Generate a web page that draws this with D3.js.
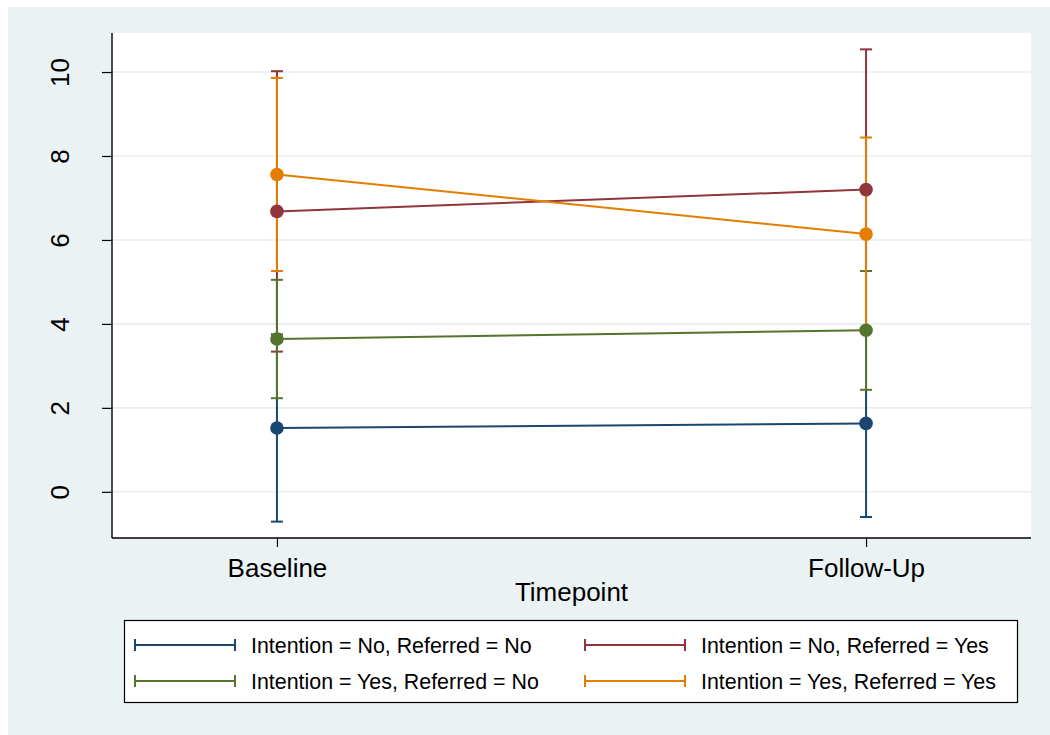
<!DOCTYPE html>
<html>
<head>
<meta charset="utf-8">
<script src="https://cdn.jsdelivr.net/npm/d3@7"></script>
<style>
  html, body { margin: 0; padding: 0; background: #ffffff; }
  svg { display: block; }
  text { font-family: "Liberation Sans", Arial, Helvetica, sans-serif; fill: #000; }
</style>
</head>
<body>
<svg id="chart" width="1050" height="735"></svg>
<script>
// Timepoints on the x axis
const timepoints = ["Baseline", "Follow-Up"];
const timeIndex = [1, 2];

// Group labels
const seriesLabels = [
  "Intention = No, Referred = No",
  "Intention = No, Referred = Yes",
  "Intention = Yes, Referred = No",
  "Intention = Yes, Referred = Yes"
];

// Group means at each timepoint
const meanNoNo   = [1.52, 1.63];
const meanNoYes  = [6.68, 7.20];
const meanYesNo  = [3.64, 3.85];
const meanYesYes = [7.56, 6.14];

// Confidence interval bounds
const lowNoNo   = [-0.71, -0.60];
const highNoNo  = [3.75, 3.86];
const lowNoYes  = [3.34, 3.86];
const highNoYes = [10.02, 10.54];
const lowYesNo  = [2.23, 2.43];
const highYesNo = [5.05, 5.26];
const lowYesYes = [5.26, 3.84];
const highYesYes = [9.86, 8.44];

// Y-axis ticks
const yTicks = [0, 2, 4, 6, 8, 10];

const colors = ["#1a476f", "#90353b", "#55752f", "#e37e00"];

const series = [
  { label: seriesLabels[0], mean: meanNoNo,   lo: lowNoNo,   hi: highNoNo,   color: colors[0] },
  { label: seriesLabels[1], mean: meanNoYes,  lo: lowNoYes,  hi: highNoYes,  color: colors[1] },
  { label: seriesLabels[2], mean: meanYesNo,  lo: lowYesNo,  hi: highYesNo,  color: colors[2] },
  { label: seriesLabels[3], mean: meanYesYes, lo: lowYesYes, hi: highYesYes, color: colors[3] }
];

const svg = d3.select("#chart");

// Plot area
const plot = { left: 112, right: 1031, top: 33, bottom: 538 };

const x = d3.scaleLinear().domain([0.72, 2.28]).range([plot.left, plot.right]);
const y = d3.scaleLinear().domain([-1.1, 10.93]).range([plot.bottom, plot.top]);

// Graph region background
svg.append("rect")
  .attr("x", 8).attr("y", 7)
  .attr("width", 1042).attr("height", 728)
  .attr("fill", "#eaf2f3");

// White plot region
svg.append("rect")
  .attr("x", plot.left).attr("y", plot.top)
  .attr("width", plot.right - plot.left).attr("height", plot.bottom - plot.top)
  .attr("fill", "#ffffff");

// Horizontal gridlines
svg.append("g").selectAll("line")
  .data(yTicks)
  .join("line")
  .attr("x1", plot.left).attr("x2", plot.right)
  .attr("y1", d => y(d)).attr("y2", d => y(d))
  .attr("stroke", "#e6eef0")
  .attr("stroke-width", 1.6);

// Y axis
const yAxis = d3.axisLeft(y)
  .tickValues(yTicks)
  .tickSize(10)
  .tickPadding(0)
  .tickFormat(d3.format("d"));

const yAxisG = svg.append("g")
  .attr("transform", `translate(${plot.left},0)`)
  .call(yAxis);
yAxisG.select(".domain")
  .attr("d", `M0,${plot.top}V${plot.bottom}`)
  .attr("stroke", "#000").attr("stroke-width", 1.4);
yAxisG.selectAll(".tick line").attr("stroke", "#000").attr("stroke-width", 1.2);
yAxisG.selectAll(".tick text")
  .attr("font-size", 26)
  .attr("font-family", "Liberation Sans, Arial, sans-serif")
  .attr("fill", "#000")
  .attr("text-anchor", "middle")
  .attr("x", 0).attr("dy", 0).attr("y", 0)
  .attr("transform", "translate(-43,0) rotate(-90)");

// X axis
const xAxis = d3.axisBottom(x)
  .tickValues(timeIndex)
  .tickSize(9)
  .tickPadding(10)
  .tickFormat((d, i) => timepoints[i]);

const xAxisG = svg.append("g")
  .attr("transform", `translate(0,${plot.bottom})`)
  .call(xAxis);
xAxisG.select(".domain")
  .attr("d", `M${plot.left},0H${plot.right}`)
  .attr("stroke", "#000").attr("stroke-width", 1.4);
xAxisG.selectAll(".tick line").attr("stroke", "#000").attr("stroke-width", 1.2);
xAxisG.selectAll(".tick text")
  .attr("font-size", 26)
  .attr("font-family", "Liberation Sans, Arial, sans-serif")
  .attr("fill", "#000")
  .attr("dy", 0)
  .attr("y", 39);

// Axis title
svg.append("text")
  .attr("x", (plot.left + plot.right) / 2)
  .attr("y", 601)
  .attr("text-anchor", "middle")
  .attr("font-size", 26)
  .text("Timepoint");

// Error bars with caps
const capHalf = 6;
const bars = svg.append("g");
series.forEach(s => {
  const g = bars.append("g").attr("stroke", s.color).attr("stroke-width", 2).attr("fill", "none");
  timeIndex.forEach((t, i) => {
    const cx = x(t);
    g.append("line").attr("x1", cx).attr("x2", cx).attr("y1", y(s.lo[i])).attr("y2", y(s.hi[i]));
    g.append("line").attr("x1", cx - capHalf).attr("x2", cx + capHalf).attr("y1", y(s.lo[i])).attr("y2", y(s.lo[i]));
    g.append("line").attr("x1", cx - capHalf).attr("x2", cx + capHalf).attr("y1", y(s.hi[i])).attr("y2", y(s.hi[i]));
  });
});

// Connected means with markers
const line = d3.line().x((d, i) => x(timeIndex[i])).y(d => y(d));
const means = svg.append("g");
series.forEach(s => {
  means.append("path")
    .attr("d", line(s.mean))
    .attr("fill", "none")
    .attr("stroke", s.color)
    .attr("stroke-width", 2);
  means.selectAll(null)
    .data(s.mean)
    .join("circle")
    .attr("cx", (d, i) => x(timeIndex[i]))
    .attr("cy", d => y(d))
    .attr("r", 6.8)
    .attr("fill", s.color);
});

// Legend
const legend = svg.append("g");
legend.append("rect")
  .attr("x", 124.5).attr("y", 620.5)
  .attr("width", 893).attr("height", 82)
  .attr("fill", "#ffffff")
  .attr("stroke", "#000")
  .attr("stroke-width", 1.2);

const legendPos = [
  { x: 135, y: 645 },
  { x: 585, y: 645 },
  { x: 135, y: 681 },
  { x: 585, y: 681 }
];

series.forEach((s, i) => {
  const p = legendPos[i];
  const g = legend.append("g").attr("stroke", s.color).attr("stroke-width", 2);
  g.append("line").attr("x1", p.x).attr("x2", p.x + 100).attr("y1", p.y).attr("y2", p.y);
  g.append("line").attr("x1", p.x).attr("x2", p.x).attr("y1", p.y - 6).attr("y2", p.y + 6);
  g.append("line").attr("x1", p.x + 100).attr("x2", p.x + 100).attr("y1", p.y - 6).attr("y2", p.y + 6);
  legend.append("text")
    .attr("x", p.x + 116)
    .attr("y", p.y + 7.5)
    .attr("font-size", 21.4)
    .text(s.label);
});
</script>
</body>
</html>
